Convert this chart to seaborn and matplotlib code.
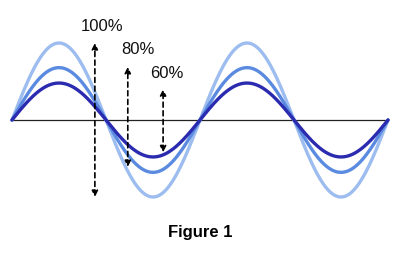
import numpy as np
import pandas as pd
import matplotlib
matplotlib.use("Agg")
import matplotlib.pyplot as plt
import seaborn as sns

# data
labels = ["100%", "80%", "60%"]
amplitudes = [1.0, 0.68, 0.48]
colors = ["#9dbdf0", "#5b8be0", "#2b2bb0"]
arrow_x = [2.77, 3.87, 5.05]
arrow_top = [1.0, 0.69, 0.40]
arrow_bottom = [-1.0, -0.61, -0.42]
label_x = [3.0, 4.2, 5.18]
label_y = [1.22, 0.91, 0.61]
periods = 2

sns.set_theme(style="white")
plt.rcParams["font.family"] = ["Liberation Sans", "DejaVu Sans"]

x = np.linspace(0, periods * 2 * np.pi, 600)
df = pd.concat([pd.DataFrame({"x": x, "y": a * np.sin(x), "amp": l})
                for a, l in zip(amplitudes, labels)], ignore_index=True)

fig = plt.figure(figsize=(4.0, 2.54), dpi=100)
ax = fig.add_axes([0, 0, 1, 1])

scale = 376 / (periods * 2 * np.pi)  # px per rad
ax.set_xlim(-12 / scale, (400 - 12) / scale)
ax.set_ylim(-134 / 77, 120 / 77)

ax.plot([0, periods * 2 * np.pi], [0, 0], color="#222222", lw=0.9, zorder=1)

sns.lineplot(data=df, x="x", y="y", hue="amp", palette=dict(zip(labels, colors)),
             lw=2.4, legend=False, ax=ax, sort=False, zorder=2)

for xa, t, b, l, lx, ly in zip(arrow_x, arrow_top, arrow_bottom, labels, label_x, label_y):
    ax.annotate("", xy=(xa, t), xytext=(xa, b),
                arrowprops=dict(arrowstyle="<|-|>", linestyle=(0, (3, 2.2)), lw=1.2,
                                color="black", mutation_scale=9, shrinkA=0, shrinkB=0),
                zorder=5)
    ax.text(lx, ly, l, ha="center", va="center", fontsize=12, color="#111111")

ax.axis("off")
fig.text(0.5, 1 - 232 / 254, "Figure 1", ha="center", va="center",
         fontsize=12, fontweight="bold", color="black")

fig.savefig("out.png", dpi=100, facecolor="white")
